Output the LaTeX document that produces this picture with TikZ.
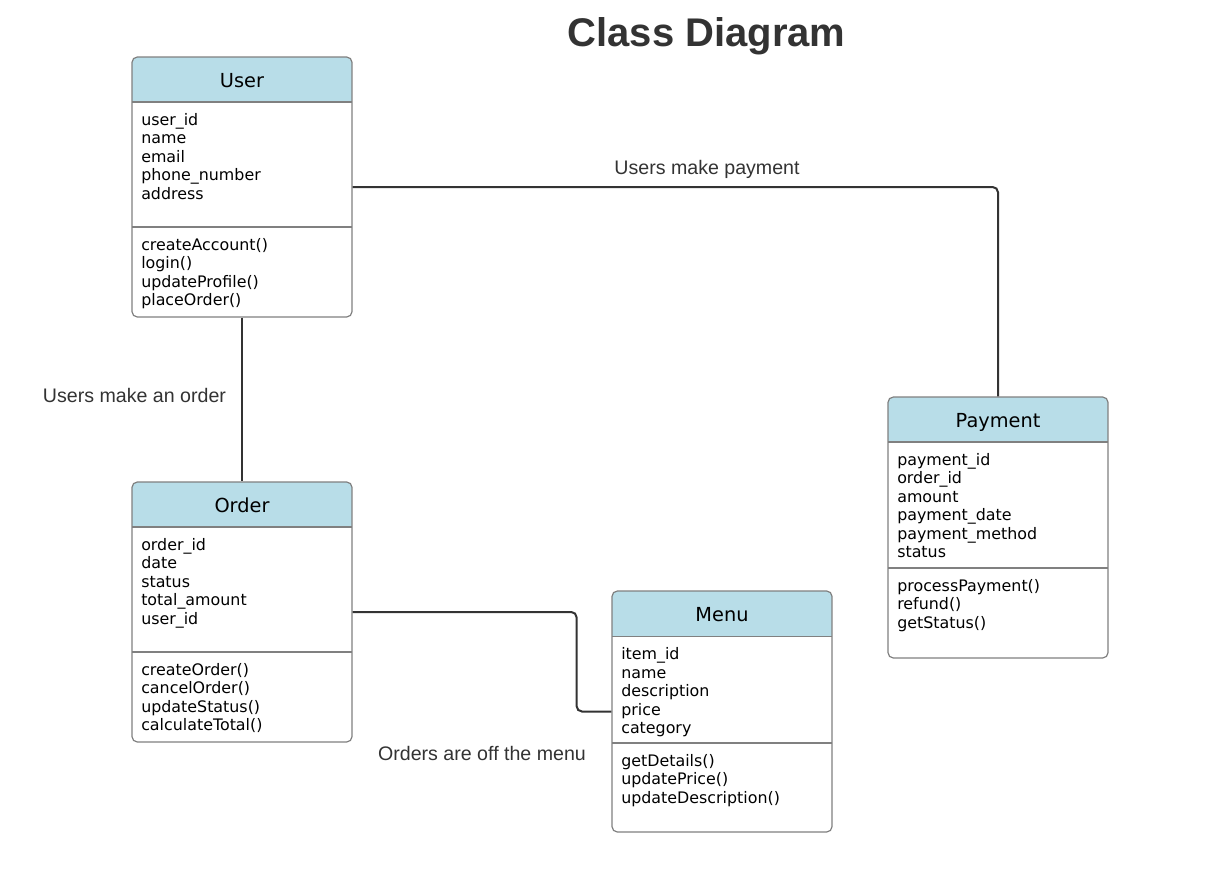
\documentclass[tikz,border=0pt]{standalone}
\usepackage{fontspec}
\setmainfont{DejaVu Sans}
\newfontfamily\labfont{Liberation Sans}
\usetikzlibrary{fit}
\definecolor{hdr}{HTML}{B8DDE8}
\definecolor{bord}{HTML}{808080}
\definecolor{ink}{HTML}{333333}
\tikzset{
  classbox/.style={draw=bord, line width=0.9pt, rounded corners=4pt, inner sep=0pt},
  sepline/.style={draw=bord, line width=0.9pt},
  classtitle/.style={anchor=base, font=\fontsize{14.5}{17}\selectfont, text=black, inner sep=0pt},
  members/.style={anchor=base west, font=\fontsize{11.9}{13.9}\selectfont, inner sep=0pt, text=black},
  rel/.style={draw=ink, line width=1.5pt, rounded corners=4pt},
  rellabel/.style={font=\labfont\fontsize{14.7}{17}\selectfont, text=ink, anchor=base, inner sep=0pt},
  titlestyle/.style={font=\labfont\bfseries\fontsize{30}{35}\selectfont, text=ink, anchor=base, inner sep=0pt},
}
% name, left, top, header bottom, divider, bottom, title, attributes, methods
\newcommand\umlclass[9]{%
  \coordinate (#1-nw) at (#2,#3);
  \coordinate (#1-se) at ({#2+220},#6);
  \begin{scope}
    \clip[rounded corners=4pt] (#1-nw) rectangle (#1-se);
    \fill[hdr] (#1-nw) rectangle ({#2+220},#4);
  \end{scope}
  \draw[sepline] (#2,#4) -- ({#2+220},#4);
  \draw[sepline] (#2,#5) -- ({#2+220},#5);
  \node[classbox, fit=(#1-nw)(#1-se)] (#1) {};
  \node[classtitle] (#1-title) at ({#2+110},{#3+30.5}) {#7};
  \node[members] (#1-attrs) at ({#2+9},{#4+23}) {\begin{tabular}[t]{@{}l@{}}#8\end{tabular}};
  \node[members] (#1-methods) at ({#2+9},{#5+23.3}) {\begin{tabular}[t]{@{}l@{}}#9\end{tabular}};
}
\begin{document}
\begin{tikzpicture}[x=0.75pt, y=-0.75pt]
  \useasboundingbox (0,0) rectangle (1226,874);
  \fill[white] (0,0) rectangle (1226,874);

  \node[titlestyle] (title) at (706.5,46) {Class Diagram};

  \umlclass{user}{132}{57}{102}{227}{317}{User}
    {user\_id\\ name\\ email\\ phone\_number\\ address}
    {createAccount()\\ login()\\ updateProfile()\\ placeOrder()}
  \umlclass{order}{132}{482}{527}{652}{742}{Order}
    {order\_id\\ date\\ status\\ total\_amount\\ user\_id}
    {createOrder()\\ cancelOrder()\\ updateStatus()\\ calculateTotal()}
  \umlclass{menu}{612}{591}{636.5}{743}{832}{Menu}
    {item\_id\\ name\\ description\\ price\\ category}
    {getDetails()\\ updatePrice()\\ updateDescription()}
  \umlclass{payment}{888}{397}{442}{568}{658}{Payment}
    {payment\_id\\ order\_id\\ amount\\ payment\_date\\ payment\_method\\ status}
    {processPayment()\\ refund()\\ getStatus()}

  \draw[rel] (user.east) -| (payment.north);
  \draw[rel] (user.south) -- (order.north);
  \draw[rel] (order.east) -- ++(224,0) |- (menu.west);

  \node[rellabel] (lpay) at (707,174) {Users make payment};
  \node[rellabel] (lord) at (134.5,402) {Users make an order};
  \node[rellabel] (lmenu) at (482,760) {Orders are off the menu};
\end{tikzpicture}
\end{document}
